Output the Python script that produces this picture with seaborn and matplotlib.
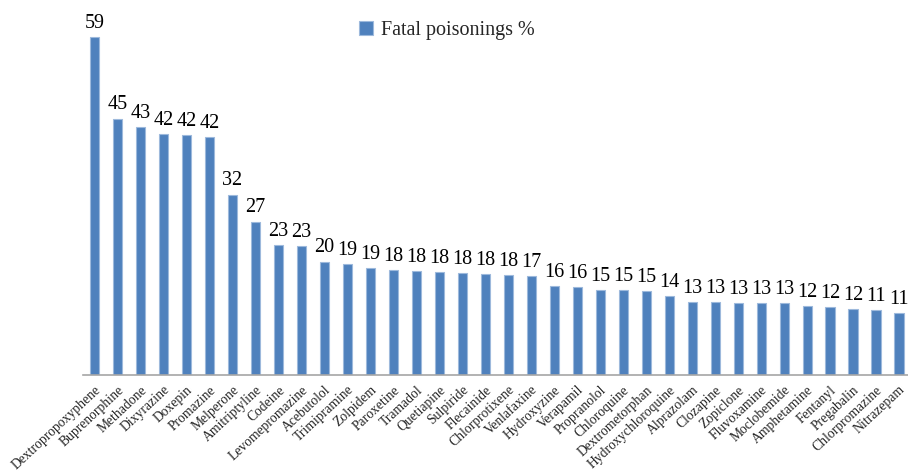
import pandas as pd
import matplotlib.pyplot as plt
import seaborn as sns

drugs = ['Dextropropoxyphene', 'Buprenorphine', 'Methadone', 'Dixyrazine', 'Doxepin',
         'Promazine', 'Melperone', 'Amitriptyline', 'Codeine', 'Levomepromazine',
         'Acebutolol', 'Trimipramine', 'Zolpidem', 'Paroxetine', 'Tramadol',
         'Quetiapine', 'Sulpiride', 'Flecainide', 'Chlorprotixene', 'Venlafaxine',
         'Hydroxyzine', 'Verapamil', 'Propranolol', 'Chloroquine', 'Dextrometorphan',
         'Hydroxychloroquine', 'Alprazolam', 'Clozapine', 'Zopiclone', 'Fluvoxamine',
         'Moclobemide', 'Amphetamine', 'Fentanyl', 'Pregabalin', 'Chlorpromazine',
         'Nitrazepam']
# bar heights
pct = [59.0, 44.8, 43.3, 42.1, 41.9, 41.6, 31.5, 26.8, 22.7, 22.5,
       19.8, 19.3, 18.7, 18.3, 18.2, 18.0, 17.8, 17.6, 17.5, 17.3,
       15.6, 15.4, 14.9, 14.8, 14.6, 13.8, 12.7, 12.7, 12.6, 12.6,
       12.5, 12.0, 11.9, 11.5, 11.3, 10.8]
# printed labels
pct_lab = [59, 45, 43, 42, 42, 42, 32, 27, 23, 23,
           20, 19, 19, 18, 18, 18, 18, 18, 18, 17,
           16, 16, 15, 15, 15, 14, 13, 13, 13, 13,
           13, 12, 12, 12, 11, 11]

df = pd.DataFrame({'drug': drugs, 'pct': pct})

sns.set_theme(style="white")
plt.rcParams["font.family"] = ["Liberation Serif", "DejaVu Serif"]

fig = plt.figure(figsize=(9.08, 4.74), dpi=100)
ax = fig.add_axes([0.0914, 0.2089, 0.9114, 0.785])

sns.barplot(data=df, x='drug', y='pct', ax=ax, color='#4F81BD', width=0.4,
            saturation=1, edgecolor='#9DB9DC', linewidth=0.8,
            label='Fatal poisonings %')

ax.bar_label(ax.containers[0], labels=[str(v) for v in pct_lab], padding=3,
             fontsize=14.5, color='black')

ax.set_ylim(0, 65)
ax.set_xlim(-0.5, len(drugs) - 0.5)
ax.set_xlabel('')
ax.set_ylabel('')
ax.set_yticks([])
ax.tick_params(axis='x', length=0, pad=6)
plt.setp(ax.get_xticklabels(), rotation=43, ha='right', rotation_mode='anchor',
         fontsize=9.8)

for s in ['top', 'right', 'left']:
    ax.spines[s].set_visible(False)
ax.spines['bottom'].set_color('#A6A6A6')
ax.spines['bottom'].set_linewidth(1.2)

leg = ax.legend(loc='upper center', bbox_to_anchor=(0.44, 1.0), frameon=False,
                fontsize=14.5, handlelength=0.7, handleheight=0.7,
                handletextpad=0.4)

fig.savefig('out.png', dpi=100)
